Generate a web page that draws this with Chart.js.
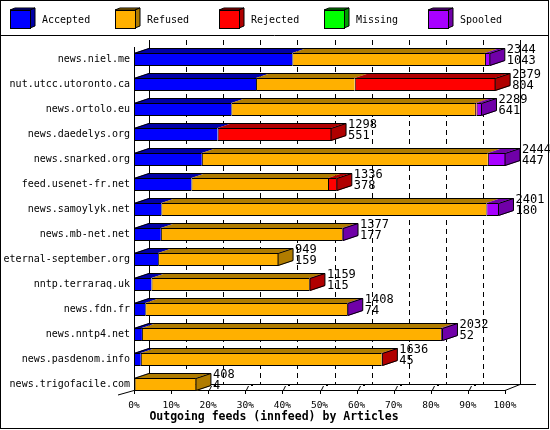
<!DOCTYPE html>
<html>
<head>
<meta charset="utf-8">
<script src="https://cdn.jsdelivr.net/npm/chart.js@4/dist/chart.umd.min.js"></script>
<style>
  html, body { margin: 0; padding: 0; background: #fff; }
  canvas { display: block; }
</style>
</head>
<body>
<canvas id="feedChart" width="550" height="430"></canvas>
<script>
// feeds, top to bottom
const feeds = ['news.niel.me', 'nut.utcc.utoronto.ca', 'news.ortolo.eu', 'news.daedelys.org',
  'news.snarked.org', 'feed.usenet-fr.net', 'news.samoylyk.net', 'news.mb-net.net',
  'eternal-september.org', 'nntp.terraraq.uk', 'news.fdn.fr', 'news.nntp4.net',
  'news.pasdenom.info', 'news.trigofacile.com'];

// article counts (offered / accepted are printed at the bar ends)
const offered  = [2344, 2379, 2289, 1298, 2444, 1336, 2401, 1377, 949, 1159, 1408, 2032, 1636, 408];
const accepted = [1043, 804, 641, 551, 447, 378, 180, 177, 159, 115, 74, 52, 45, 4];
const refused  = [1269, 650, 1605, 0, 1884, 900, 2141, 1195, 790, 1040, 1331, 1970, 1587, 404];
const rejected = [0, 925, 11, 747, 0, 58, 0, 0, 0, 4, 0, 0, 4, 0];
const missing  = [0, 0, 0, 0, 0, 0, 0, 0, 0, 0, 0, 0, 0, 0];
const spooled  = [32, 0, 32, 0, 113, 0, 80, 5, 0, 0, 3, 10, 0, 0];

const xTicks = [0, 10, 20, 30, 40, 50, 60, 70, 80, 90, 100];

const seriesNames = ['Accepted', 'Refused', 'Rejected', 'Missing', 'Spooled'];
const seriesData = [accepted, refused, rejected, missing, spooled];
const fronts = ['#0000ff', '#ffb000', '#ff0000', '#00ff00', '#a800ff'];
const darks  = ['#0000a8', '#b07c00', '#b00000', '#00a000', '#7000a8'];

const MONO = '"DejaVu Sans Mono", "Liberation Mono", monospace';
const DX = 15, DY = 5; // 3d depth of the bars

// bars are scaled against the biggest feed
const maxOffered = Math.max(...offered);
const pct = (v) => v / maxOffered * 100;

const px = (v) => Math.round(v) + 0.5;
function line(ctx, x1, y1, x2, y2) {
  ctx.beginPath();
  ctx.moveTo(x1, y1);
  ctx.lineTo(x2, y2);
  ctx.stroke();
}
function poly(ctx, pts, fill, stroke) {
  ctx.beginPath();
  pts.forEach(([x, y], i) => i ? ctx.lineTo(x, y) : ctx.moveTo(x, y));
  ctx.closePath();
  if (fill) { ctx.fillStyle = fill; ctx.fill(); }
  if (stroke) { ctx.strokeStyle = stroke; ctx.stroke(); }
}

// back wall, grid and floor edges
const backdrop = {
  id: 'backdrop',
  beforeDatasetsDraw(chart) {
    const { ctx, chartArea: a } = chart;
    const xs = chart.scales.x;
    const fy = a.bottom - 7, by = fy - 6, backTop = a.top - 7;
    ctx.save();
    ctx.strokeStyle = '#000';
    ctx.lineWidth = 1;

    ctx.setLineDash([5, 4]);
    xTicks.slice(1, -1).forEach(v => {
      const x = px(xs.getPixelForValue(v) + DX);
      line(ctx, x, backTop, x, by);
    });
    ctx.setLineDash([]);

    line(ctx, px(a.left + DX), backTop, px(a.left + DX), by);
    line(ctx, px(a.right + DX), backTop, px(a.right + DX), px(by));
    line(ctx, a.left + DX, px(by), a.right + DX + 16, px(by));

    // small 3d tick marks on the floor
    xTicks.slice(2, -1).forEach(v => {
      const x = xs.getPixelForValue(v);
      line(ctx, px(x) + 1, fy, px(x) + 3, fy - 4);
      ctx.fillStyle = '#000';
      ctx.fillRect(Math.round(x) + 6, by, 2, 2);
    });
    ctx.restore();
  },
  afterDatasetsDraw(chart) {
    const { ctx, chartArea: a } = chart;
    const xs = chart.scales.x;
    const fy = a.bottom - 7, by = fy - 6;
    ctx.save();
    ctx.strokeStyle = '#000';
    ctx.lineWidth = 1;
    line(ctx, px(a.left), a.top, px(a.left), px(fy));
    line(ctx, a.left, px(fy), a.right, px(fy));
    line(ctx, a.left - 16, fy + 5, a.left, px(fy));
    line(ctx, a.right, px(fy), a.right + DX, px(by));
    xTicks.forEach(v => {
      const x = px(xs.getPixelForValue(v));
      line(ctx, x, fy, x, fy + 4);
    });
    ctx.restore();
  }
};

// top and side faces of each bar, plus the offered / accepted numbers
const bars3d = {
  id: 'bars3d',
  afterDatasetsDraw(chart) {
    const ctx = chart.ctx;
    const metas = seriesNames.map((_, i) => chart.getDatasetMeta(i));
    ctx.save();
    ctx.lineWidth = 1;
    feeds.forEach((f, r) => {
      const segs = metas.map((m, i) => ({ el: m.data[r], i }))
        .filter(s => s.el.x - s.el.base > 0.01);
      if (!segs.length) return;
      const first = segs[0].el, last = segs[segs.length - 1];
      const yT = first.y - first.height / 2, yB = first.y + first.height / 2;
      const x0 = first.base, xe = last.el.x;

      segs.forEach(s => {
        poly(ctx, [[s.el.base, yT], [s.el.x, yT], [s.el.x + DX, yT - DY], [s.el.base + DX, yT - DY]], darks[s.i]);
      });
      poly(ctx, [[xe, yT], [xe + DX, yT - DY], [xe + DX, yB - DY], [xe, yB]], darks[last.i]);

      ctx.strokeStyle = '#000';
      ctx.beginPath();
      ctx.moveTo(x0, yT + 0.5);
      ctx.lineTo(x0 + DX, yT - DY + 0.5);
      ctx.lineTo(xe + DX, yT - DY + 0.5);
      ctx.lineTo(xe + DX, yB - DY - 0.5);
      ctx.lineTo(xe, yB - 0.5);
      ctx.lineTo(xe, yT + 0.5);
      ctx.lineTo(xe + DX, yT - DY + 0.5);
      ctx.stroke();

      ctx.fillStyle = '#000';
      ctx.font = '12px ' + MONO;
      ctx.textAlign = 'left';
      ctx.textBaseline = 'middle';
      ctx.fillText(String(offered[r]), xe + 17, first.y - 9.5);
      ctx.fillText(String(accepted[r]), xe + 17, first.y + 1.5);
    });
    ctx.restore();
  }
};

// legend band, frame and axis title
const frame = {
  id: 'frame',
  afterDraw(chart) {
    const ctx = chart.ctx;
    ctx.save();
    ctx.strokeStyle = '#000';
    ctx.lineWidth = 1;
    ctx.strokeRect(0.5, 0.5, 548, 428);
    line(ctx, 0, 35.5, 549, 35.5);

    seriesNames.forEach((name, i) => {
      const bx = Math.round(10 + i * 104.6), bt = 10, w = 20, h = 18;
      poly(ctx, [[bx, bt], [bx + w, bt], [bx + w + 5, bt - 2], [bx + 5, bt - 2]], darks[i], '#000');
      poly(ctx, [[bx + w, bt], [bx + w + 5, bt - 2], [bx + w + 5, bt + h - 2], [bx + w, bt + h]], darks[i], '#000');
      ctx.fillStyle = fronts[i];
      ctx.fillRect(bx, bt, w, h);
      ctx.strokeRect(bx + 0.5, bt + 0.5, w, h);
      ctx.fillStyle = '#000';
      ctx.font = '10px ' + MONO;
      ctx.textBaseline = 'middle';
      ctx.fillText(name, bx + 32, 20);
    });

    ctx.font = 'bold 11.5px ' + MONO;
    ctx.textAlign = 'center';
    ctx.textBaseline = 'middle';
    ctx.fillText('Outgoing feeds (innfeed) by Articles', 274, 417);
    ctx.restore();
  }
};

const feedChart = new Chart(document.getElementById('feedChart'), {
  type: 'bar',
  data: {
    labels: feeds,
    datasets: seriesNames.map((name, i) => ({
      label: name,
      data: seriesData[i].map(pct),
      backgroundColor: fronts[i],
      borderColor: '#000',
      borderWidth: { top: 1, bottom: 1, left: 1, right: 0 },
      borderSkipped: false,
      inflateAmount: 0,
      barThickness: 13
    }))
  },
  options: {
    indexAxis: 'y',
    responsive: false,
    animation: false,
    layout: { padding: { top: 47, right: 45, bottom: 0, left: 0 } },
    scales: {
      x: {
        stacked: true, min: 0, max: 100,
        grid: { display: false, drawTicks: false }, border: { display: false },
        afterFit: (s) => { s.height = 33; },
        afterBuildTicks: (s) => { s.ticks = xTicks.map(v => ({ value: v })); },
        ticks: {
          autoSkip: false, maxRotation: 0, padding: 3, color: '#000',
          font: { family: MONO, size: 9.5 },
          callback: (v) => v + '%'
        }
      },
      y: {
        stacked: true,
        grid: { display: false, drawTicks: false }, border: { display: false },
        afterFit: (s) => { s.width = 134; },
        ticks: { autoSkip: false, padding: 4, color: '#000', font: { family: MONO, size: 10 } }
      }
    },
    plugins: { legend: { display: false }, tooltip: { enabled: false } }
  },
  plugins: [backdrop, bars3d, frame]
});
</script>
</body>
</html>
